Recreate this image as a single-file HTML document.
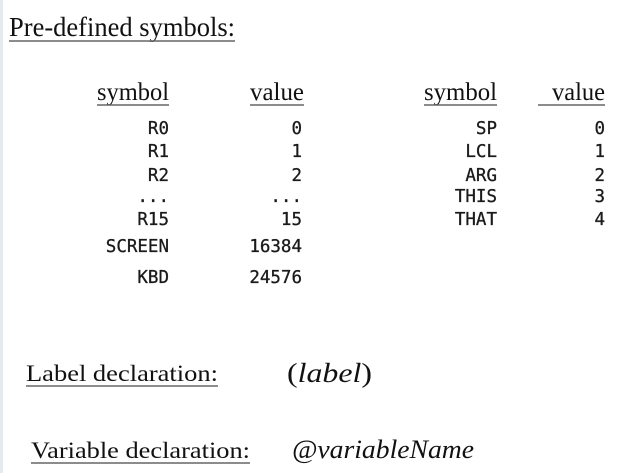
<!DOCTYPE html>
<html><head><meta charset="utf-8"><style>
html,body{margin:0;padding:0;background:#fff;width:631px;height:473px;overflow:hidden}
svg{display:block}
.s{font-family:"Liberation Serif",serif;fill:#111}
.m{font-family:"DejaVu Sans Mono","Liberation Mono",monospace;font-size:17.5px;fill:#1a1a1a;text-anchor:end;stroke:#1a1a1a;stroke-width:0.3}
line{stroke:#666;stroke-width:1.5}
</style></head><body>
<svg width="631" height="473" viewBox="0 0 631 473">
<rect x="0" y="0" width="3" height="473" fill="#e4eaf0"/>
<text class="s" x="9" y="36" font-size="27" textLength="226" lengthAdjust="spacingAndGlyphs">Pre-defined symbols:</text>
<line x1="9" y1="41" x2="235" y2="41"/>

<text class="s" x="97" y="100" font-size="25" textLength="72" lengthAdjust="spacingAndGlyphs">symbol</text>
<line x1="97" y1="105" x2="169" y2="105"/>
<text class="s" x="250" y="100" font-size="25" textLength="54" lengthAdjust="spacingAndGlyphs">value</text>
<line x1="250" y1="105" x2="304" y2="105"/>
<text class="s" x="424" y="100" font-size="25" textLength="73" lengthAdjust="spacingAndGlyphs">symbol</text>
<line x1="424" y1="105" x2="497" y2="105"/>
<text class="s" x="552" y="100" font-size="25" textLength="53" lengthAdjust="spacingAndGlyphs">value</text>
<line x1="538" y1="105" x2="605" y2="105"/>

<g class="m">
<text x="169" y="134">R0</text><text x="302" y="134">0</text>
<text x="169" y="157">R1</text><text x="302" y="157">1</text>
<text x="169" y="181">R2</text><text x="302" y="181">2</text>
<text x="169" y="202">...</text><text x="302" y="202">...</text>
<text x="169" y="225">R15</text><text x="302" y="225">15</text>
<text x="169" y="252">SCREEN</text><text x="302" y="252">16384</text>
<text x="169" y="283">KBD</text><text x="302" y="283">24576</text>
<text x="497" y="134">SP</text><text x="605" y="134">0</text>
<text x="497" y="157">LCL</text><text x="605" y="157">1</text>
<text x="497" y="181">ARG</text><text x="605" y="181">2</text>
<text x="497" y="202">THIS</text><text x="605" y="202">3</text>
<text x="497" y="225">THAT</text><text x="605" y="225">4</text>
</g>

<text class="s" x="26" y="381" font-size="23" textLength="192" lengthAdjust="spacingAndGlyphs">Label declaration:</text>
<line x1="26" y1="386" x2="218" y2="386"/>
<text class="s" x="287" y="382" font-size="27" textLength="85" lengthAdjust="spacingAndGlyphs">(<tspan font-style="italic">label</tspan>)</text>

<text class="s" x="31" y="458" font-size="23" textLength="219" lengthAdjust="spacingAndGlyphs">Variable declaration:</text>
<line x1="31" y1="463" x2="250" y2="463"/>
<text class="s" x="292" y="458" font-size="26" font-style="italic" textLength="182" lengthAdjust="spacingAndGlyphs">@variableName</text>
</svg>
</body></html>
